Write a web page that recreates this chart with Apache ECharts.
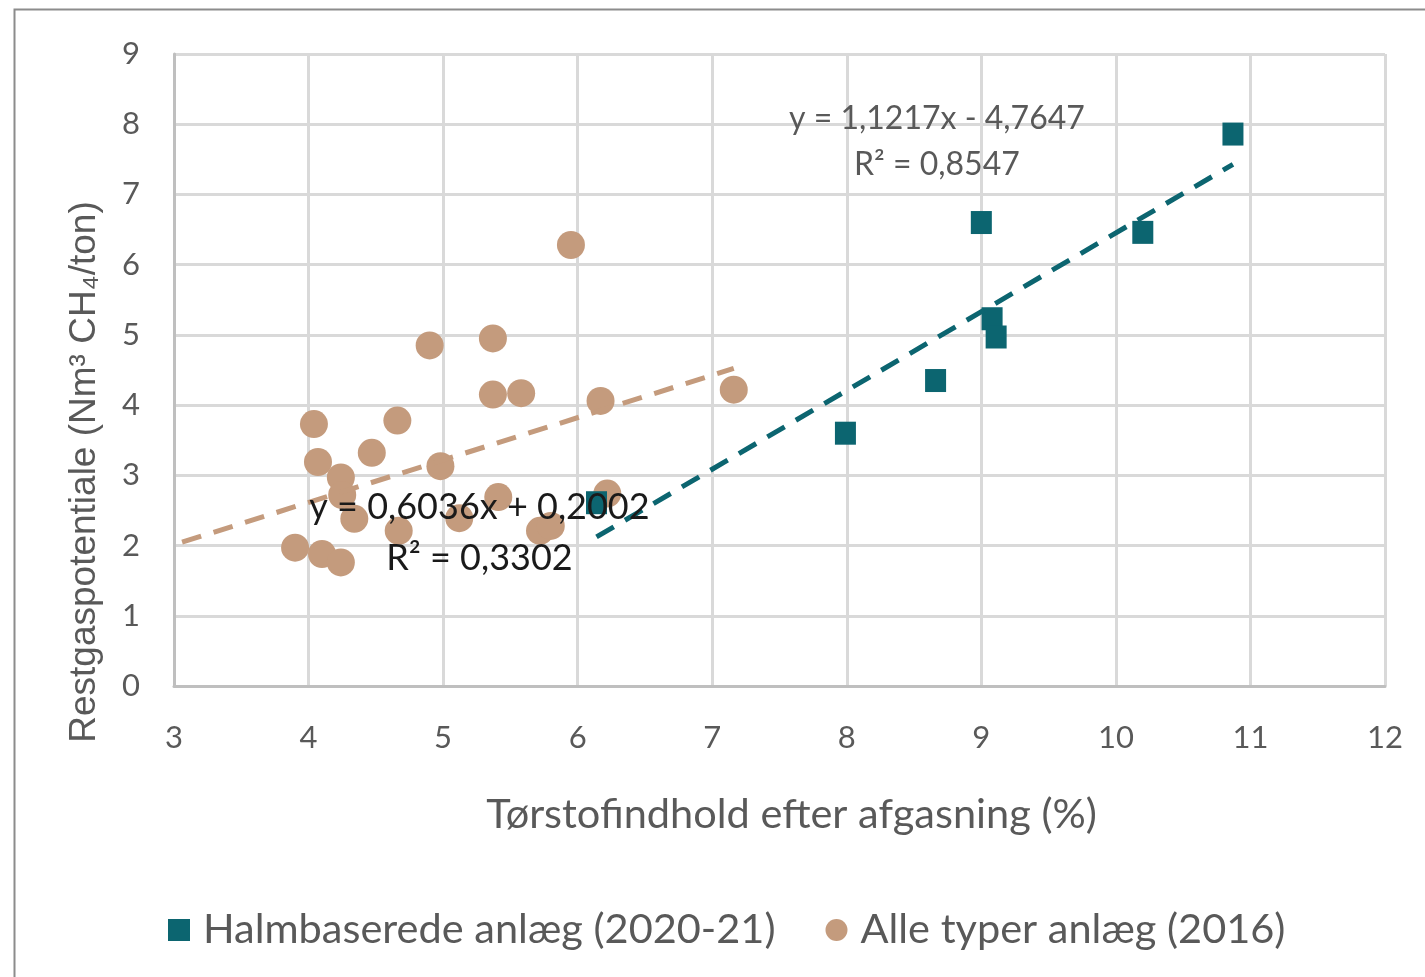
<!DOCTYPE html>
<html>
<head>
<meta charset="utf-8">
<script src="https://cdn.jsdelivr.net/npm/echarts@6/dist/echarts.min.js"></script>
<style>
html,body{margin:0;padding:0;background:#fff;}
#chart{width:1425px;height:977px;}
</style>
</head>
<body>
<div id="chart"></div>
<script>
// ---- data ----
const seriesNames = ['Halmbaserede anlæg (2020-21)', 'Alle typer anlæg (2016)'];
const halmX = [10.87, 9.00, 10.20, 9.08, 9.11, 8.66, 7.99, 6.14];
const halmY = [7.86, 6.60, 6.46, 5.23, 4.97, 4.35, 3.60, 2.61];
const alleX = [5.95, 4.90, 5.37, 5.37, 5.58, 6.17, 4.04, 4.66, 4.47, 4.07, 4.24, 4.25, 4.98, 5.41, 6.22, 4.34, 4.67, 5.12, 5.72, 5.80, 3.90, 4.10, 4.24, 7.16];
const alleY = [6.28, 4.85, 4.95, 4.15, 4.17, 4.06, 3.73, 3.78, 3.32, 3.19, 2.97, 2.72, 3.13, 2.69, 2.74, 2.38, 2.21, 2.39, 2.21, 2.28, 1.97, 1.88, 1.76, 4.22];
// trendlines (as printed in the chart): [halm, alle]
const trendSlope = [1.1217, 0.6036];
const trendIntercept = [-4.7647, 0.2002];
const trendR2 = [0.8547, 0.3302];
const trendXStart = [6.14, 3.06];
const trendXEnd = [10.87, 7.16];
const xTickRange = [3, 12];
const yTickRange = [0, 9];

const teal = '#0c6570';
const tan = '#c49b7d';

function pts(xs, ys){ return xs.map((x,i)=>[x, ys[i]]); }
function trend(i){
  return [trendXStart[i], trendXEnd[i]].map(x => [x, trendSlope[i]*x + trendIntercept[i]]);
}
function fmt(v){ return Math.abs(v).toFixed(4).replace('.', ','); }
function eqText(i){
  const s = trendIntercept[i] < 0 ? ' - ' : ' + ';
  return 'y = ' + fmt(trendSlope[i]) + 'x' + s + fmt(trendIntercept[i]);
}

const chart = echarts.init(document.getElementById('chart'));
const axisLabelStyle = {color:'#595959', fontFamily:'Lato', fontSize:31};
chart.setOption({
  animation:false,
  backgroundColor:'#fff',
  grid:{left:174, right:40, top:54, bottom:291, containLabel:false},
  xAxis:{
    type:'value', min:xTickRange[0], max:xTickRange[1], interval:1,
    axisLine:{show:true, lineStyle:{color:'#bfbfbf', width:3}},
    axisTick:{show:false},
    axisLabel:Object.assign({margin:36}, axisLabelStyle),
    splitLine:{show:true, lineStyle:{color:'#d9d9d9', width:3}},
    name:'Tørstofindhold efter afgasning (%)',
    nameLocation:'middle', nameGap:108,
    nameTextStyle:{color:'#595959', fontFamily:'Lato', fontSize:41.5, padding:[0,0,0,24]}
  },
  yAxis:{
    type:'value', min:yTickRange[0], max:yTickRange[1], interval:1,
    axisLine:{show:true, lineStyle:{color:'#bfbfbf', width:3}},
    axisTick:{show:false},
    axisLabel:Object.assign({margin:34}, axisLabelStyle),
    splitLine:{show:true, lineStyle:{color:'#d9d9d9', width:3}}
  },
  legend:{
    data:[{name:seriesNames[0], icon:'rect'},{name:seriesNames[1], icon:'circle'}],
    left:163, top:904, itemWidth:22, itemHeight:22, itemGap:50,
    textStyle:{color:'#595959', fontFamily:'Lato', fontSize:41.5, padding:[0,0,0,8]}
  },
  series:[
    {name:seriesNames[1], type:'scatter', data:pts(alleX, alleY), symbol:'circle', symbolSize:28,
     itemStyle:{color:tan, opacity:1}, z:2},
    {name:seriesNames[0], type:'scatter', data:pts(halmX, halmY), symbol:'rect', symbolSize:[21,23],
     itemStyle:{color:teal, opacity:1}, z:3},
    {name:'trend-alle', type:'line', data:trend(1), symbol:'none', z:4,
     lineStyle:{color:tan, width:5, type:[20,13]}},
    {name:'trend-halm', type:'line', data:trend(0), symbol:'none', z:4,
     lineStyle:{color:teal, width:5, type:[20,13]}}
  ]
});

function place(){
  const p1 = chart.convertToPixel({gridIndex:0}, [8.67, 7.75]);
  const p2 = chart.convertToPixel({gridIndex:0}, [5.27, 2.56]);
  chart.setOption({graphic:[
    {type:'rect', left:12, top:7, shape:{width:1500, height:1100},
     style:{fill:'none', stroke:'#8c8c8c', lineWidth:2}, silent:true, z:-1},
    {type:'text', x:85, y:472, rotation:Math.PI/2,
     style:{text:'Restgaspotentiale (Nm³ CH₄/ton)', fill:'#595959', font:'37px "Liberation Sans Narrow", "Liberation Sans", sans-serif',
            align:'center', verticalAlign:'middle'}, z:10},
    {type:'text', x:p1[0], y:p1[1],
     style:{text:eqText(0) + '\nR² = ' + fmt(trendR2[0]), fill:'#595959', font:'32px Lato',
            align:'center', verticalAlign:'middle', lineHeight:46}, z:10},
    {type:'text', x:p2[0], y:p2[1] + 27,
     style:{text:eqText(1) + '\nR² = ' + fmt(trendR2[1]), fill:'#1a1a1a', font:'36px Lato',
            align:'center', verticalAlign:'middle', lineHeight:51}, z:10}
  ]});
}
place();
</script>
</body>
</html>
